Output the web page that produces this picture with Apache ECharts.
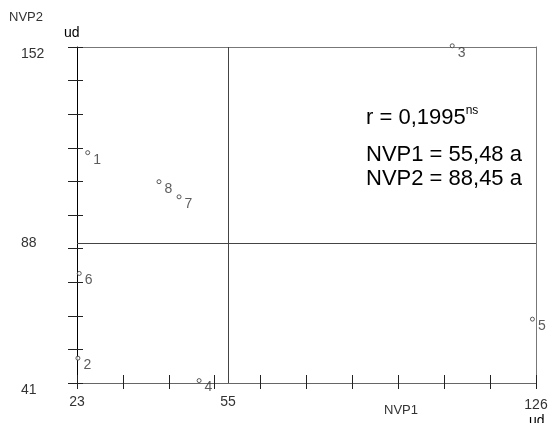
<!DOCTYPE html>
<html>
<head>
<meta charset="utf-8">
<script src="https://cdn.jsdelivr.net/npm/echarts@6/dist/echarts.min.js"></script>
<style>html,body{margin:0;padding:0;background:#fff}#c{width:552px;height:423px}</style>
</head>
<body>
<div id="c"></div>
<script>
// ---- data ----
const pointLabels = ['1', '2', '3', '4', '5', '6', '7', '8'];
const nvp1 = [25.4, 23.2, 107.2, 50.4, 125.2, 23.5, 45.9, 41.4];
const nvp2 = [117.1, 49.2, 152.4, 41.8, 62.1, 77.2, 102.5, 107.5];

// axis ranges, reference lines and tick labels
const xMin = 23, xMax = 126;
const yMin = 41, yMax = 152;
const xMeanLine = 56.9;
const yMeanLine = 87.3;
const xTicks = [23, 33.3, 43.6, 53.9, 64.2, 74.5, 84.8, 95.1, 105.4, 115.7, 126];
const yTicks = [41, 52.1, 63.2, 74.3, 85.4, 96.5, 107.6, 118.7, 129.8, 140.9, 152];
const xLabelValues = [23, 56.9, 126];
const xLabelTexts = ['23', '55', '126'];
const yLabelValues = [41, 87.3, 152];
const yLabelTexts = ['41', '88', '152'];
const statR = 'r = 0,1995';
const statRSup = 'ns';
const statLines = ['NVP1 = 55,48 a', 'NVP2 = 88,45 a'];

const FONT = "'Liberation Sans', Arial, sans-serif";
const lbl = (vals, texts) => v => {
  for (let i = 0; i < vals.length; i++) if (Math.abs(vals[i] - v) < 1e-6) return texts[i];
  return '';
};

const chart = echarts.init(document.getElementById('c'), null, { renderer: 'canvas' });
const axisTxt = { color: '#333', fontSize: 14, fontFamily: FONT };
const t = (txt, left, top, size, color) => ({
  text: txt, left: left, top: top, padding: 0,
  textStyle: { fontSize: size, fontWeight: 'normal', color: color, fontFamily: FONT }
});

chart.setOption({
  animation: false,
  backgroundColor: '#fff',
  grid: { left: 77, right: 16, top: 47, bottom: 40, containLabel: false, outerBoundsMode: 'none' },
  title: [
    t('NVP2', 9, 11, 13, '#333'),
    t('ud', 64, 26, 14, '#000'),
    t('NVP1', 384, 404, 13, '#333'),
    t('ud', 529, 414, 14, '#000'),
    {
      text: '{m|' + statR + '}{s|' + statRSup + '}', left: 366, top: 105, padding: 0,
      textStyle: {
        fontWeight: 'normal',
        rich: {
          m: { fontSize: 22, fontWeight: 'normal', color: '#000', fontFamily: FONT },
          s: { fontSize: 12, fontWeight: 'normal', color: '#000', fontFamily: FONT, padding: [0, 0, 13, 0] }
        }
      }
    },
    t(statLines[0], 366, 144, 22, '#000'),
    t(statLines[1], 366, 168, 22, '#000')
  ],
  xAxis: [
    {
      type: 'value', position: 'bottom', min: xMin, max: xMax,
      axisLine: { show: true, lineStyle: { color: '#666', width: 1 } },
      axisTick: { show: true, inside: false, length: 6, customValues: xTicks, lineStyle: { color: '#222' } },
      axisLabel: { show: true, customValues: xLabelValues.slice(0, 2), formatter: lbl(xLabelValues, xLabelTexts), margin: 12, align: 'center', ...axisTxt },
      splitLine: { show: false }
    },
    {
      type: 'value', position: 'bottom', min: xMin, max: xMax,
      axisLine: { show: false },
      axisTick: { show: true, inside: true, length: 8, customValues: xTicks, lineStyle: { color: '#222' } },
      axisLabel: { show: true, customValues: [xLabelValues[2]], formatter: lbl(xLabelValues, xLabelTexts), margin: 15, align: 'center', ...axisTxt },
      splitLine: { show: false }
    },
    {
      type: 'value', position: 'top', min: xMin, max: xMax,
      axisLine: { show: true, lineStyle: { color: '#777', width: 1 } },
      axisTick: { show: false }, axisLabel: { show: false }, splitLine: { show: false }
    }
  ],
  yAxis: [
    {
      type: 'value', position: 'left', min: yMin, max: yMax,
      axisLine: { show: true, lineStyle: { color: '#000', width: 1 } },
      axisTick: { show: true, inside: false, length: 9, customValues: yTicks, lineStyle: { color: '#222' } },
      axisLabel: { show: true, customValues: [yLabelValues[0], yLabelValues[2]], formatter: lbl(yLabelValues, yLabelTexts), margin: 56, align: 'left', verticalAlign: 'top', ...axisTxt },
      splitLine: { show: false }
    },
    {
      type: 'value', position: 'left', min: yMin, max: yMax,
      axisLine: { show: false },
      axisTick: { show: true, inside: true, length: 6, customValues: yTicks, lineStyle: { color: '#222' } },
      axisLabel: { show: true, customValues: [yLabelValues[1]], formatter: lbl(yLabelValues, yLabelTexts), margin: 56, align: 'left', verticalAlign: 'middle', ...axisTxt },
      splitLine: { show: false }
    },
    {
      type: 'value', position: 'right', min: yMin, max: yMax,
      axisLine: { show: true, lineStyle: { color: '#777', width: 1 } },
      axisTick: { show: false }, axisLabel: { show: false }, splitLine: { show: false }
    }
  ],
  series: [
    {
      type: 'scatter', xAxisIndex: 0, yAxisIndex: 0, clip: false,
      symbol: 'circle', symbolSize: 4,
      itemStyle: { color: '#fff', borderColor: '#333', borderWidth: 1 },
      label: {
        show: true, position: 'right', distance: 3, offset: [0, 7],
        formatter: p => pointLabels[p.dataIndex],
        color: '#333', fontSize: 14, fontFamily: FONT
      },
      data: nvp1.map((x, i) => [x, nvp2[i]]),
      markLine: {
        silent: true, symbol: 'none', animation: false,
        lineStyle: { color: '#444', width: 1, type: 'solid' },
        label: { show: false },
        data: [{ xAxis: xMeanLine }, { yAxis: yMeanLine }]
      }
    }
  ]
});
</script>
</body>
</html>
